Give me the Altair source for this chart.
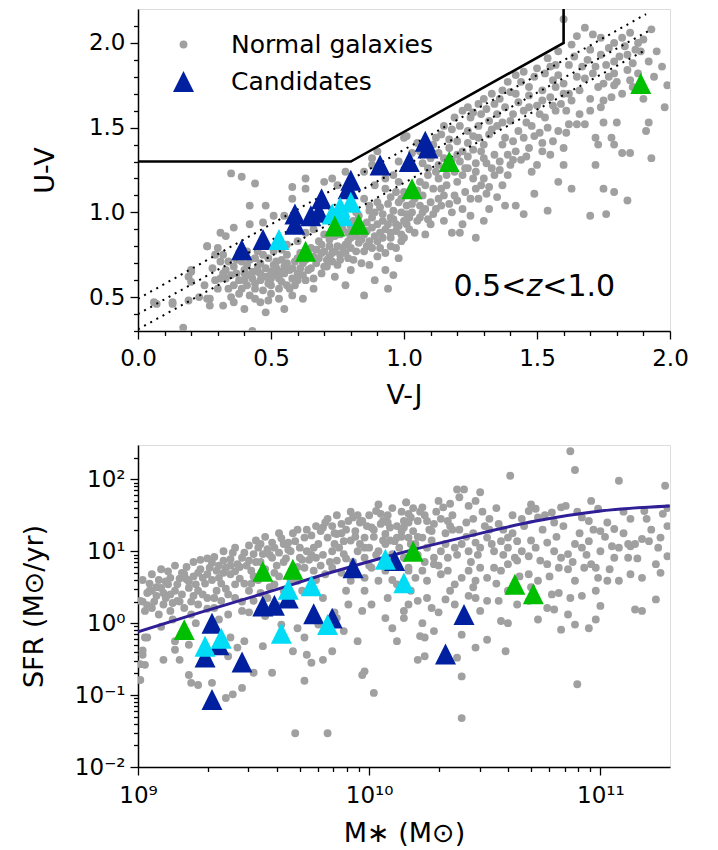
import altair as alt
import pandas as pd
import numpy as np

FONT = "DejaVu Sans"
GRAY = "#a0a0a0"
DARK = "#00209f"
CYAN = "#00dcf5"
GREEN = "#00be00"
MS_COLOR = "#2f1f96"
TRI = "M0,-1L1,1L-1,1Z"

# ---------------- top panel data: (V-J, U-V) ----------------
TOP_GRAY = [
    (0.35,1.23),(0.39,1.21),(0.44,1.17),(0.42,1.04),(0.48,1.04),(0.58,1.15),(0.63,1.20),(0.63,1.14),
    (0.58,1.08),(0.55,0.98),(0.51,0.98),(0.47,0.94),(0.42,0.93),(0.36,0.91),(0.31,0.88),(0.33,0.86),
    (0.26,0.80),(0.30,0.79),(0.32,0.75),(0.31,0.71),(0.20,0.66),(0.19,0.62),(0.29,0.60),(0.33,0.61),
    (0.36,0.57),(0.26,0.49),(0.27,0.45),(0.23,0.50),(0.19,0.48),(0.13,0.47),(0.06,0.47),(0.32,0.45),
    (0.40,0.43),(0.48,0.41),(0.55,0.43),(0.43,0.30),(0.17,0.32),(0.62,0.49),(0.66,0.55),(0.63,0.60),
    (0.74,0.62),(0.80,0.66),(0.85,0.51),(0.93,0.66),(0.93,0.76),(0.70,0.68),(0.73,0.76),(0.76,0.75),
    (0.82,0.77),(0.88,0.79),(0.90,0.83),(0.97,0.89),(0.99,0.83),(1.00,0.95),(0.70,1.18),(0.73,1.20),
    (0.85,1.24),(0.88,1.32),(0.89,1.16),(0.93,1.14),(0.98,1.18),(0.98,1.06),(0.90,1.06),(0.87,1.01),
    (0.92,0.99),(0.95,0.97),(0.88,0.91),(0.93,0.90),(0.85,0.87),(0.80,0.85),(0.78,0.81),
    (0.34,0.71),(0.36,0.68),(0.39,0.71),(0.41,0.69),(0.44,0.73),(0.46,0.70),(0.49,0.73),(0.51,0.69),
    (0.54,0.72),(0.56,0.75),(0.59,0.71),(0.35,0.63),(0.38,0.60),(0.40,0.64),(0.43,0.61),(0.45,0.65),
    (0.48,0.62),(0.50,0.65),(0.53,0.61),(0.55,0.64),(0.58,0.61),(0.41,0.57),(0.44,0.55),(0.47,0.54),
    (0.50,0.57),(0.53,0.55),(0.56,0.57),(0.39,0.55),(0.50,0.52),(0.59,0.57),(0.65,0.67),(0.68,0.73),
    (0.70,0.77),(0.65,0.79),(0.68,0.83),(0.70,0.87),(0.60,0.83),(0.56,0.81),(0.54,0.78),(0.51,0.77),
    (0.45,0.77),(0.41,0.77),(0.38,0.76),(0.63,0.88),(0.66,0.90),(0.65,0.94),(0.76,0.87),(0.80,0.92),
    (0.88,0.97),(0.85,1.08),(0.78,1.24),(0.75,1.16),(0.29,0.75),(0.28,0.67),(0.31,0.61),(0.30,0.55),
    (0.25,0.57),(0.34,0.55),(0.35,0.50),(0.44,0.49),(0.53,0.49),(0.58,0.51),(0.61,0.67),(0.75,0.69),
    (0.78,0.57),(0.94,0.55),(0.07,0.46),(0.13,0.46),(0.20,0.65),(0.20,0.59),(0.27,0.49),(0.26,0.80),
    (1.00,1.44),(0.90,1.36),(0.88,1.28),(0.96,1.22),(0.98,1.30),(0.95,0.85),(0.99,1.00),(0.97,1.12),
    (0.93,1.20),(0.82,1.00),(0.90,0.74),(0.87,0.69),(0.98,0.73),(0.97,0.79),
    (1.60,2.14),(1.68,2.09),(1.65,2.04),(1.74,2.03),(1.79,2.00),(1.82,2.03),(1.93,2.08),(1.87,1.96),
    (1.84,1.93),(1.92,1.89),(1.97,1.86),(1.89,1.95),(1.79,1.89),(1.74,1.93),(1.70,1.96),(1.69,1.90),
    (1.64,1.92),(1.62,1.87),(1.67,1.86),(1.72,1.86),(1.76,1.87),(1.79,1.82),(1.80,1.77),(1.85,1.78),
    (1.89,1.72),(1.90,1.67),(1.99,1.75),(1.98,1.62),(1.92,1.53),(1.91,1.48),(1.93,1.32),(1.85,1.35),
    (1.82,1.35),(1.79,1.40),(1.78,1.44),(1.80,1.53),(1.75,1.53),(1.72,1.44),(1.73,1.40),(1.65,1.52),
    (1.68,1.52),(1.75,1.66),(1.70,1.67),(1.79,1.75),(1.75,1.76),(1.72,1.28),(1.58,1.18),(1.63,1.14),
    (1.75,1.14),(1.79,1.12),(1.84,1.07),(1.70,0.98),(1.76,0.99),(1.54,1.01),
    (1.54,1.91),(1.55,1.86),(1.50,1.85),(1.53,1.82),(1.49,1.80),(1.45,1.83),(1.42,1.81),(1.44,1.77),
    (1.39,1.77),(1.37,1.72),(1.40,1.71),(1.33,1.70),(1.30,1.67),(1.34,1.64),(1.28,1.64),(1.24,1.62),
    (1.22,1.60),(1.25,1.56),(1.29,1.58),(1.19,1.56),(1.21,1.51),(1.15,1.51),(1.14,1.46),(1.17,1.43),
    (1.24,1.48),(1.28,1.51),(1.32,1.54),(1.35,1.58),(1.38,1.62),(1.43,1.65),(1.47,1.69),(1.52,1.72),
    (1.57,1.74),(1.60,1.76),(1.58,1.81),(1.62,1.70),(1.55,1.68),(1.50,1.63),(1.45,1.60),(1.40,1.54),
    (1.35,1.51),(1.32,1.46),(1.28,1.44),(1.24,1.41),(1.22,1.36),(1.30,1.40),(1.38,1.44),(1.43,1.48),
    (1.48,1.51),(1.53,1.56),(1.57,1.60),(1.59,1.64),(1.49,1.45),(1.54,1.50),(1.58,1.48),(1.61,1.47),
    (1.52,1.41),(1.47,1.38),(1.42,1.36),(1.37,1.40),(1.34,1.34),(1.30,1.32),(1.27,1.29),(1.44,1.31),
    (1.50,1.28),(1.55,1.34),(1.60,1.38),(1.60,1.28),(1.40,1.28),(1.33,1.26),(1.24,1.26),(1.26,1.20),
    (1.29,1.16),(1.34,1.22),(1.37,1.16),(1.31,1.11),(1.35,1.09),(1.28,1.08),(1.42,1.04),(1.49,1.11),
    (1.38,1.04),(1.32,1.02),(1.25,0.98),(1.30,0.95),(1.45,0.99),(1.18,0.88),(1.21,0.88),(1.27,0.85),
    (1.01,1.45),(1.11,1.40),(1.06,1.36),(1.10,1.32),(1.15,1.32),(1.20,1.34),(1.23,1.26),(1.19,1.24),
    (1.13,1.20),(1.09,1.22),(1.06,1.18),(1.11,1.14),(1.16,1.16),(1.20,1.18),(1.15,1.10),(1.19,1.10),
    (1.10,1.06),(1.14,1.04),(1.08,1.02),(1.03,1.00),(1.11,0.99),(1.18,1.00),(1.22,1.02),(1.06,0.97),
    (1.01,0.93),(1.10,0.93),(1.15,0.95),(1.08,0.87),(1.04,0.88),(1.00,0.85),(1.22,0.93),
    (0.33,0.66),(0.37,0.72),(0.40,0.66),(0.42,0.72),(0.45,0.68),(0.47,0.75),(0.52,0.71),(0.55,0.68),
    (0.57,0.66),(0.60,0.73),(0.62,0.70),(0.64,0.75),(0.67,0.78),(0.69,0.81),(0.72,0.80),(0.72,0.84),
    (0.74,0.86),(0.77,0.90),(0.79,0.88),(0.81,0.95),(0.83,0.98),(0.84,0.90),(0.86,0.94),(0.87,1.04),
    (0.89,1.00),(0.91,1.03),(0.92,0.95),(0.94,1.05),(0.95,1.09),(0.96,1.01),(0.97,0.93),(0.99,1.08),
    (1.00,1.12),(1.01,1.04),(1.02,0.97),(1.04,1.08),(1.05,1.13),(1.06,1.04),(1.07,1.10),(1.08,1.16),
    (1.09,1.26),(1.12,1.24),(1.13,1.28),(1.14,1.14),(1.16,1.22),(1.17,1.27),(1.18,1.31),(1.21,1.30),
    (1.22,1.22),(1.24,1.33),(1.26,1.37),(1.27,1.24),(1.29,1.36),(1.31,1.29),(1.36,1.30),(1.39,1.34),
    (1.41,1.42),(1.45,1.44),(1.46,1.53),(1.51,1.47),(1.51,1.58),(1.56,1.63),(1.61,1.60),(1.63,1.66),
    (1.66,1.72),(1.68,1.79),(1.71,1.82),(1.73,1.74),(1.77,1.80),(1.81,1.92),(1.84,1.84),(1.86,1.88),
    (1.88,2.00),(1.83,1.98),(1.77,1.97),(0.46,0.60),(0.49,0.58),(0.52,0.63),(0.54,0.59),(0.57,0.55),
    (0.60,0.60),(0.62,0.63),(0.43,0.65),(0.37,0.64),(0.32,0.64),(0.38,0.52),(0.42,0.51),(0.46,0.47),
    (0.49,0.48),(0.36,0.47),(0.66,0.61),(0.69,0.64),(0.71,0.72),(0.74,0.77),(0.77,0.79),(0.79,0.73),
    (0.83,0.82),(0.86,0.80),(0.91,0.88),(0.95,0.80),(0.84,0.70),(0.96,0.63),(0.89,0.60),
    (0.40,0.60),(0.42,0.63),(0.44,0.58),(0.46,0.64),(0.48,0.67),(0.50,0.61),(0.52,0.67),(0.54,0.65),
    (0.56,0.70),(0.58,0.67),(0.60,0.64),(0.61,0.76),(0.63,0.72),(0.64,0.66),(0.66,0.74),(0.67,0.70),
    (0.69,0.76),(0.71,0.68),(0.72,0.74),(0.73,0.71),(0.75,0.80),(0.76,0.72),(0.78,0.76),(0.79,0.83),
    (0.80,0.79),(0.81,0.72),(0.82,0.86),(0.84,0.84),(0.85,0.77),(0.86,0.89),(0.87,0.83),(0.89,0.86),
    (0.90,0.93),(0.91,0.79),(0.92,0.85),(0.94,0.93),(0.95,0.88),(0.96,0.96),(0.98,0.92),(0.99,0.87),
    (1.01,0.99),(1.02,0.90),(1.03,1.05),(1.05,0.95),(1.07,1.00),(1.09,0.96),(1.12,1.02),(1.13,1.08),
    (1.17,1.05),(1.20,1.07),(1.23,1.12),(1.25,1.08),(1.27,1.14),(1.30,1.20),(1.32,1.15),(1.36,1.25),
    (1.39,1.22),(1.41,1.31),(1.46,1.33),(1.48,1.24),(1.52,1.36),(1.56,1.42),(1.62,1.52),(1.66,1.58),
    (1.70,1.60),(1.74,1.62),(1.78,1.68),(1.82,1.70),(1.86,1.74),(1.88,1.82),(1.94,1.80),(1.95,1.95),
    (1.90,2.02),(1.85,2.06),(1.71,2.05),(1.63,1.99),(1.58,1.95),(1.56,1.78),(1.47,1.74),(1.42,1.70),
    (1.36,1.67),(1.31,1.61),(1.26,1.59),(1.18,1.49),(1.12,1.44),(1.05,1.41),(1.03,1.35),(1.07,1.29),
    (1.13,1.35),(1.17,1.38),(1.20,1.42),(1.26,1.45),(1.33,1.49),(1.37,1.53),(1.41,1.58),(1.47,1.62),
    (1.52,1.66),(1.60,1.70),(1.65,1.80),(1.57,1.87),
]
TOP_BLUE = [(0.39,0.78),(0.47,0.84),(0.59,0.99),(0.59,0.93),(0.65,0.98),(0.68,1.00),(0.69,1.08),
            (0.79,1.14),(0.80,1.19),(0.91,1.28),(1.02,1.30),(1.08,1.42),(1.09,1.38)]
TOP_CYAN = [(0.53,0.84),(0.73,0.99),(0.76,1.03),(0.77,0.98),(0.80,1.06)]
TOP_GREEN = [(0.63,0.77),(0.74,0.92),(0.83,0.93),(1.03,1.14),(1.17,1.30),(1.89,1.76)]

BOX_VJ = [0.0, 0.8, 1.6, 1.6]
BOX_UV = [1.3, 1.3, 2.0, 2.2]
DOT_START = [(0.0, 0.49), (0.0, 0.40), (0.0, 0.31)]
DOT_END = [(1.91, 2.17), (1.93, 2.08), (1.91, 1.96)]

# ---------------- bottom panel data: (log M*, log SFR) ----------------
BOT_GRAY = [
    (9.01,0.31),(9.04,0.42),(9.06,0.45),(9.08,0.38),(9.10,0.49),(9.11,0.42),(9.13,0.54),(9.14,0.63),
    (9.16,0.45),(9.17,0.54),(9.19,0.70),(9.21,0.61),(9.22,0.49),(9.24,0.38),(9.25,0.54),(9.27,0.75),
    (9.28,0.63),(9.30,0.68),(9.31,0.77),(9.32,0.84),(9.34,0.73),(9.35,0.63),(9.37,0.87),(9.38,0.77),
    (9.40,0.89),(9.40,0.68),(9.42,0.54),(9.43,0.82),(9.45,0.91),(9.46,0.98),(9.48,0.87),(9.49,0.73),
    (9.50,0.96),(9.52,1.05),(9.54,0.96),(9.56,1.03),(9.58,0.91),(9.59,1.05),(9.61,0.98),(9.63,1.10),
    (9.65,1.12),(9.66,1.00),(9.68,1.14),(9.70,0.91),(9.72,1.19),(9.73,1.00),(9.76,1.05),(9.77,0.91),
    (9.79,1.28),(9.80,1.33),(9.82,1.19),(9.84,1.35),(9.85,1.10),(9.86,1.24),(9.88,1.38),(9.89,1.14),
    (9.91,1.42),(9.93,1.47),(9.94,1.28),(9.97,1.42),(9.98,1.19),(10.00,1.05),(10.01,1.33),(10.03,1.56),
    (10.05,1.52),(10.06,1.42),(10.07,1.24),(10.09,1.33),(10.11,1.14),(10.12,1.19),(10.14,1.28),(10.15,1.42),
    (10.16,1.68),(10.17,1.52),(10.18,1.10),
    (9.03,0.17),(9.06,0.21),(9.09,0.12),(9.11,0.26),(9.14,0.17),(9.17,0.31),(9.20,0.21),(9.23,0.12),
    (9.26,0.26),(9.30,0.35),(9.33,0.21),(9.36,0.31),(9.39,0.12),(9.42,0.35),(9.45,0.17),(9.48,0.45),
    (9.50,0.31),(9.53,0.42),(9.56,0.35),(9.59,0.54),(9.63,0.45),(9.69,0.59),(9.72,0.77),(9.76,0.73),
    (9.81,0.68),(9.84,0.77),(9.86,0.87),(9.89,0.96),(9.92,0.59),(9.95,1.00),(9.98,0.91),(10.01,0.77),
    (10.04,1.00),(10.07,1.10),(10.10,0.96),(10.12,0.82),(10.15,0.91),(10.17,0.73),(9.98,0.63),(10.04,0.59),
    (10.07,0.73),(10.12,0.54),
    (9.03,-0.20),(9.02,-0.44),(9.03,-0.58),(9.01,-0.79),(9.11,-0.51),(9.16,-0.25),(9.16,-0.37),(9.18,-0.51),
    (9.22,-0.30),(9.22,-0.72),(9.23,-0.83),(9.26,-0.86),(9.32,-0.83),(9.38,-1.04),(9.41,-0.99),(9.45,-0.90),
    (9.39,-0.46),(9.43,-0.34),(9.46,-0.25),(9.40,-0.20),(9.50,-0.69),(9.54,-0.32),(9.58,-0.69),(9.67,-0.39),
    (9.72,-0.20),(9.73,-0.44),(9.75,-0.55),(9.80,-0.51),(9.84,-0.39),(9.72,-0.80),(9.68,-1.53),(9.82,-1.53),
    (9.97,-0.72),(9.98,-0.67),(10.02,-0.97),(9.89,-0.11),(9.95,-0.25),(9.86,0.07),(9.78,-0.02),(9.69,-0.07),
    (9.62,-0.02),(10.07,0.07),(10.10,-0.07),(10.12,-0.25),(10.15,0.17),(10.08,0.35),(10.01,0.26),(9.97,0.17),
    (9.91,0.26),(9.98,0.45),(9.02,0.30),(9.05,0.45),(9.04,-0.20),(9.02,-0.38),(9.01,-0.57),
    (10.16,1.68),(10.23,1.61),(10.18,1.47),(10.21,1.42),(10.25,1.42),(10.28,1.38),(10.31,1.45),(10.34,1.42),
    (10.35,1.35),(10.38,1.86),(10.41,1.86),(10.46,1.70),(10.48,1.82),(10.43,1.63),(10.32,1.61),(10.35,1.66),
    (10.52,1.45),(10.56,1.38),(10.61,2.05),(10.60,1.19),(10.64,1.14),(10.69,1.56),(10.72,1.59),(10.73,1.47),
    (10.79,1.54),(10.83,1.61),(10.85,1.63),(10.87,2.39),(10.89,2.13),(10.92,1.47),(10.95,1.42),(10.99,1.59),
    (11.00,1.28),(11.06,1.31),(11.08,1.98),(11.13,1.45),(11.19,1.56),(11.28,1.91),(11.27,1.52),(11.29,1.35),
    (11.26,1.19),(11.25,1.05),(11.29,0.93),(11.18,1.17),(11.21,1.14),(11.13,1.07),(11.12,1.10),(11.08,1.05),
    (11.05,1.07),
    (10.15,1.33),(10.17,1.19),(10.20,1.10),(10.23,1.19),(10.25,1.05),(10.28,0.91),(10.31,1.00),(10.34,0.91),
    (10.37,1.05),(10.40,1.10),(10.43,1.00),(10.46,1.12),(10.48,1.05),(10.51,1.19),(10.54,1.00),(10.57,1.14),
    (10.60,1.05),(10.63,0.91),(10.66,1.00),(10.69,0.93),(10.72,1.05),(10.74,0.87),(10.77,1.12),(10.80,1.00),
    (10.83,0.91),(10.86,0.96),(10.89,1.10),(10.92,1.05),(10.95,1.14),(10.98,0.77),(11.00,1.00),(11.06,0.91),
    (11.12,0.91),(11.15,1.10),(11.24,0.82),
    (10.17,0.77),(10.20,0.63),(10.23,0.73),(10.25,0.59),(10.28,0.82),(10.31,0.68),(10.34,0.73),(10.37,0.54),
    (10.40,0.63),(10.43,0.73),(10.46,0.59),(10.48,0.77),(10.51,0.63),(10.54,0.77),(10.57,0.73),(10.60,0.82),
    (10.64,0.87),(10.69,0.68),(10.73,0.59),(10.77,0.82),(10.82,0.77),(10.86,0.75),(10.89,0.59),(10.93,0.77),
    (10.96,0.82),(10.99,0.63),(11.03,0.59),(11.08,0.59),(11.13,0.68),(11.18,0.63),
    (10.18,0.45),(10.17,0.26),(10.15,0.07),(10.21,0.31),(10.27,0.21),(10.23,0.00),(10.33,0.33),(10.37,0.26),
    (10.43,0.38),(10.46,0.35),(10.48,0.17),(10.51,0.31),(10.56,0.31),(10.57,0.03),(10.60,0.00),(10.64,0.26),
    (10.69,0.31),(10.73,0.05),(10.77,0.21),(10.80,0.19),(10.83,-0.09),(10.86,0.12),(10.89,-0.02),(10.95,-0.07),
    (10.98,0.05),(11.00,0.24),(11.15,0.19),(11.18,0.17),(11.24,0.33),(10.79,0.40),(10.82,0.42),(10.87,0.35),
    (10.92,0.38),(10.98,0.45),
    (10.22,-0.18),(10.24,-0.20),(10.28,-0.11),(10.21,-0.51),(10.24,-0.46),(10.40,-0.16),(10.46,-0.34),
    (10.51,-0.23),(10.59,-0.39),(10.38,-0.48),(10.40,-0.74),(10.40,-1.32),(10.90,-0.85),
    (9.05,0.55),(9.07,0.30),(9.09,0.60),(9.12,0.35),(9.13,0.72),(9.15,0.28),(9.18,0.62),(9.19,0.40),
    (9.21,0.78),(9.23,0.30),(9.24,0.65),(9.26,0.45),(9.27,0.88),(9.29,0.55),(9.30,0.20),(9.33,0.92),
    (9.34,0.45),(9.36,0.55),(9.37,0.70),(9.39,0.40),(9.41,0.98),(9.42,0.72),(9.44,0.62),(9.45,0.30),
    (9.47,0.80),(9.49,0.55),(9.51,0.85),(9.52,0.60),(9.53,1.10),(9.55,0.75),(9.57,0.50),(9.58,1.12),
    (9.60,0.80),(9.61,0.65),(9.62,1.18),(9.64,0.90),(9.66,0.60),(9.67,1.25),(9.69,0.78),(9.70,1.05),
    (9.71,0.45),(9.74,0.88),(9.75,1.22),(9.77,0.60),(9.78,1.10),(9.80,0.95),(9.81,1.40),(9.83,0.85),
    (9.85,1.25),(9.87,1.05),(9.88,0.70),(9.90,1.30),(9.92,1.15),(9.93,0.85),(9.95,1.50),(9.96,1.10),
    (9.99,1.35),(10.00,0.80),(10.02,1.20),(10.03,0.95),(10.05,1.38),(10.06,0.85),(10.08,1.50),(10.09,1.15),
    (10.10,0.60),(10.13,1.05),(10.14,1.55),(10.19,1.28),(10.21,0.95),(10.22,1.55),(10.24,0.85),(10.26,1.30),
    (10.27,1.15),(10.29,1.55),(10.30,0.80),(10.33,1.25),(10.36,1.50),(10.38,0.95),(10.39,1.30),(10.42,1.20),
    (10.44,0.85),(10.45,1.45),(10.47,0.95),(10.50,1.35),(10.53,1.10),(10.55,0.55),(10.58,1.30),(10.62,1.25),
    (10.65,0.65),(10.67,1.35),(10.70,1.15),(10.75,1.30),(10.78,0.65),(10.81,1.20),(10.84,1.35),(10.88,0.85),
    (10.91,1.25),(10.94,0.95),(10.97,1.30),(11.02,1.20),(11.04,0.75),(11.10,1.25),(11.16,0.90),(11.22,1.30),
    (11.26,0.70),(11.29,1.60),(10.60,0.45),(10.70,0.50),(10.45,0.50),(10.35,0.45),(10.25,0.35),(10.30,0.15),
    (10.40,0.05),(9.90,0.45),(9.80,0.35),(9.85,0.15),(9.60,0.25),(9.55,0.10),(9.48,0.15),(9.35,0.05),
    (9.25,0.00),(9.15,0.05),(9.10,-0.05),
    (9.02,0.60),(9.04,0.25),(9.06,0.68),(9.08,0.50),(9.10,0.75),(9.12,0.58),(9.14,0.40),(9.16,0.80),
    (9.18,0.30),(9.20,0.68),(9.22,0.58),(9.24,0.85),(9.26,0.70),(9.28,0.40),(9.30,0.90),(9.32,0.60),
    (9.33,0.35),(9.35,0.80),(9.37,1.00),(9.38,0.48),(9.40,0.80),(9.42,1.05),(9.44,0.78),(9.46,0.55),
    (9.48,1.08),(9.50,0.65),(9.51,1.15),(9.53,0.85),(9.55,1.20),(9.57,0.95),(9.59,0.70),(9.61,1.25),
    (9.63,0.85),(9.65,1.02),(9.67,0.70),(9.69,1.30),(9.71,0.88),(9.73,1.30),(9.75,0.95),(9.77,1.35),
    (9.79,0.80),(9.82,1.45),(9.84,1.00),(9.86,1.50),(9.88,1.25),(9.90,0.90),(9.92,1.55),(9.94,1.20),
    (9.96,1.40),(9.98,1.05),(10.00,1.50),(10.02,1.30),(10.04,1.65),(10.06,1.15),(10.08,1.40),(10.10,1.60),
    (10.12,1.35),(10.14,1.20),(10.17,1.40),(10.19,1.60),(10.21,1.20),(10.24,1.50),(10.27,1.28),(10.30,1.70),
    (10.33,1.10),(10.36,1.30),(10.39,1.75),(10.42,1.40),(10.45,1.25),(10.49,1.55),(10.52,1.30),(10.55,1.60),
    (10.58,0.95),(10.62,1.50),(10.66,1.45),(10.70,1.65),(10.76,1.50),(10.80,1.40),(10.90,1.55),(10.96,1.70),
    (11.03,1.40),(11.10,1.55),(11.20,1.45),
]
BOT_BLUE = [(9.32,0.00),(9.35,-0.30),(9.29,-0.47),(9.45,-0.54),(9.32,-1.06),(9.54,0.24),(9.59,0.25),
            (9.65,0.35),(9.76,0.13),(9.84,0.07),(9.93,0.77),(10.11,0.87),(10.41,0.12),(10.33,-0.43)]
BOT_CYAN = [(9.29,-0.32),(9.36,-0.21),(9.65,0.47),(9.75,0.52),(9.62,-0.14),(9.82,-0.02),(10.07,0.89),(10.15,0.56)]
BOT_GREEN = [(9.20,-0.09),(9.54,0.72),(9.67,0.75),(10.19,1.00),(10.63,0.54),(10.71,0.41)]

MS_LOGM = [9.0, 9.27, 9.55, 9.83, 10.14, 10.43, 10.72, 11.0, 11.3]
MS_LOGSFR = [-0.12, 0.15, 0.42, 0.70, 0.98, 1.21, 1.42, 1.56, 1.63]

# ---------------- ticks ----------------
X_TICKS_TOP = [0.0,0.1,0.2,0.3,0.4,0.5,0.6,0.7,0.8,0.9,1.0,1.1,1.2,1.3,1.4,1.5,1.6,1.7,1.8,1.9,2.0]
Y_TICKS_TOP = [0.3,0.4,0.5,0.6,0.7,0.8,0.9,1.0,1.1,1.2,1.3,1.4,1.5,1.6,1.7,1.8,1.9,2.0,2.1]
X_TICKS_BOT = [1e9,2e9,3e9,4e9,5e9,6e9,7e9,8e9,9e9,1e10,2e10,3e10,4e10,5e10,6e10,7e10,8e10,9e10,1e11]
Y_TICKS_BOT = [0.01,0.02,0.03,0.04,0.05,0.06,0.07,0.08,0.09,0.1,0.2,0.3,0.4,0.5,0.6,0.7,0.8,0.9,
               1,2,3,4,5,6,7,8,9,10,20,30,40,50,60,70,80,90,100,200]

TICK_FS = 23
TITLE_FS = 27
MAJ = 8
MIN = 4.5

half_test = "abs(datum.value*2 - round(datum.value*2)) < 0.001"
lin_label = f"{half_test} ? format(datum.value, '.1f') : ''"
ydec_test = "indexof([0.01, 0.1, 1, 10, 100], datum.value) >= 0"
ydec_label = ("datum.value == 100 ? '10²' : datum.value == 10 ? '10¹' : datum.value == 1 ? '10⁰' : "
              "datum.value == 0.1 ? '10⁻¹' : datum.value == 0.01 ? '10⁻²' : ''")
xdec_test = "indexof([1000000000, 10000000000, 100000000000], datum.value) >= 0"
xdec_label = ("datum.value == 1000000000 ? '10⁹' : datum.value == 10000000000 ? '10¹⁰' : "
              "datum.value == 100000000000 ? '10¹¹' : ''")


def tsize(test):
    return {"condition": {"test": test, "value": MAJ}, "value": MIN}


common_axis = dict(labelFont=FONT, labelFontSize=TICK_FS, labelColor="black", titleFont=FONT,
                   titleFontSize=TITLE_FS, titleFontWeight="normal", titleColor="black",
                   domainColor="black", domainWidth=1.5, tickColor="black", tickWidth=1.3,
                   grid=False, labelOverlap=False, labelFlush=False)

x_axis_top = alt.Axis(title="V-J", values=X_TICKS_TOP, labelExpr=lin_label, tickSize=tsize(half_test),
                      labelPadding=8, titleX=266, titleY=64, titleBaseline="middle", titleAlign="center",
                      **common_axis)
y_axis_top = alt.Axis(title="U-V", values=Y_TICKS_TOP, labelExpr=lin_label, tickSize=tsize(half_test),
                      labelPadding=5, titleX=-93, titleY=161, titleAngle=-90, titleBaseline="middle",
                      titleAlign="center", **common_axis)
x_axis_bot = alt.Axis(title="M∗ (M⊙)", values=X_TICKS_BOT, labelExpr=xdec_label, tickSize=tsize(xdec_test),
                      labelPadding=9, titleX=266, titleY=66, titleBaseline="middle", titleAlign="center",
                      **common_axis)
y_axis_bot = alt.Axis(title="SFR (M⊙/yr)", values=Y_TICKS_BOT, labelExpr=ydec_label, tickSize=tsize(ydec_test),
                      labelPadding=5, titleX=-104, titleY=161, titleAngle=-90, titleBaseline="middle",
                      titleAlign="center", **common_axis)

xs_top = alt.Scale(domain=[0.0, 2.0], nice=False, zero=False)
ys_top = alt.Scale(domain=[0.3, 2.2], nice=False, zero=False)
xs_bot = alt.Scale(type="log", domain=[1e9, 2e11], nice=False)
ys_bot = alt.Scale(type="log", domain=[0.01, 300], nice=False)

X_top = alt.X("vj:Q", scale=xs_top, axis=x_axis_top)
Y_top = alt.Y("uv:Q", scale=ys_top, axis=y_axis_top)
X_bot = alt.X("m:Q", scale=xs_bot, axis=x_axis_bot)
Y_bot = alt.Y("sfr:Q", scale=ys_bot, axis=y_axis_bot)

GROUPS = ["Normal galaxies", "Candidates"]
legend = alt.Legend(title=None, orient="none", legendX=33, legendY=23, labelFont=FONT, labelFontSize=25,
                    labelColor="black", labelOffset=35, labelLimit=0, rowPadding=11, padding=0,
                    symbolStrokeWidth=0)
color_enc = alt.Color("group:N", scale=alt.Scale(domain=GROUPS, range=[GRAY, DARK]), legend=legend)
shape_enc = alt.Shape("group:N", scale=alt.Scale(domain=GROUPS, range=["circle", TRI]), legend=legend)
size_enc = alt.Size("group:N", scale=alt.Scale(domain=GROUPS, range=[62, 440]), legend=legend)
CLS = ["blue", "cyan", "green"]
fill_enc = alt.Fill("cls:N", scale=alt.Scale(domain=CLS, range=[DARK, CYAN, GREEN]), legend=None)

# ---------------- top panel ----------------
tg = pd.DataFrame(TOP_GRAY, columns=["vj", "uv"])
tg["group"] = "Normal galaxies"
tc = pd.concat([
    pd.DataFrame(TOP_BLUE, columns=["vj", "uv"]).assign(cls="blue"),
    pd.DataFrame(TOP_CYAN, columns=["vj", "uv"]).assign(cls="cyan"),
    pd.DataFrame(TOP_GREEN, columns=["vj", "uv"]).assign(cls="green"),
], ignore_index=True)
tc["group"] = "Candidates"
box = pd.DataFrame({"vj": BOX_VJ, "uv": BOX_UV, "i": list(range(len(BOX_VJ)))})
dots = pd.DataFrame(
    [{"vj": s[0], "uv": s[1], "k": n, "i": 0} for n, s in enumerate(DOT_START)]
    + [{"vj": e[0], "uv": e[1], "k": n, "i": 1} for n, e in enumerate(DOT_END)]
)
ann = pd.DataFrame({"vj": [1.49], "uv": [0.56]})

top_gray = alt.Chart(tg).mark_point(filled=True, opacity=1, strokeWidth=0, clip=True).encode(
    x=X_top, y=Y_top, color=color_enc, shape=shape_enc, size=size_enc)
top_dots = alt.Chart(dots).mark_line(color="black", strokeWidth=2, strokeDash=[2, 5], clip=True).encode(
    x=X_top, y=Y_top, detail="k:N", order="i:Q")
top_box = alt.Chart(box).mark_line(color="black", strokeWidth=2.6, clip=True).encode(
    x=X_top, y=Y_top, order="i:Q")
top_cand = alt.Chart(tc).mark_point(filled=True, opacity=1, strokeWidth=0, clip=True).encode(
    x=X_top, y=Y_top, color=color_enc, shape=shape_enc, size=size_enc, fill=fill_enc)
t1 = alt.Chart(ann).mark_text(text="0.5<", align="right", baseline="middle", dx=-8, font=FONT,
                              fontSize=30, color="black").encode(x=X_top, y=Y_top)
t2 = alt.Chart(ann).mark_text(text="z", align="center", baseline="middle", font=FONT, fontStyle="italic",
                              fontSize=30, color="black").encode(x=X_top, y=Y_top)
t3 = alt.Chart(ann).mark_text(text="<1.0", align="left", baseline="middle", dx=8, font=FONT,
                              fontSize=30, color="black").encode(x=X_top, y=Y_top)

top = alt.layer(top_gray, top_dots, top_box, top_cand, t1, t2, t3).properties(width=532, height=322)

# ---------------- bottom panel ----------------
bg = pd.DataFrame(BOT_GRAY, columns=["lm", "ls"])
bc = pd.concat([
    pd.DataFrame(BOT_BLUE, columns=["lm", "ls"]).assign(cls="blue"),
    pd.DataFrame(BOT_CYAN, columns=["lm", "ls"]).assign(cls="cyan"),
    pd.DataFrame(BOT_GREEN, columns=["lm", "ls"]).assign(cls="green"),
], ignore_index=True)
ms = pd.DataFrame({"lm": MS_LOGM, "ls": MS_LOGSFR})
for d in (bg, bc, ms):
    d["m"] = np.power(10.0, d["lm"])
    d["sfr"] = np.power(10.0, d["ls"])

bot_gray = alt.Chart(bg).mark_circle(color=GRAY, size=62, opacity=1, clip=True).encode(x=X_bot, y=Y_bot)
bot_line = alt.Chart(ms).mark_line(color=MS_COLOR, strokeWidth=3, interpolate="monotone", clip=True).encode(
    x=X_bot, y=Y_bot)
bot_cand = alt.Chart(bc).mark_point(filled=True, opacity=1, strokeWidth=0, shape=TRI, size=440, clip=True).encode(
    x=X_bot, y=Y_bot, fill=fill_enc)

bottom = alt.layer(bot_gray, bot_line, bot_cand).properties(width=532, height=322)

chart = alt.vconcat(top, bottom, spacing=35).properties(
    padding={"left": 11, "top": 0, "right": 5, "bottom": 0}
).configure_view(stroke="black", strokeWidth=1.5).configure(background="white")

chart.save("out.html", embed_options={"renderer": "svg", "actions": False})
